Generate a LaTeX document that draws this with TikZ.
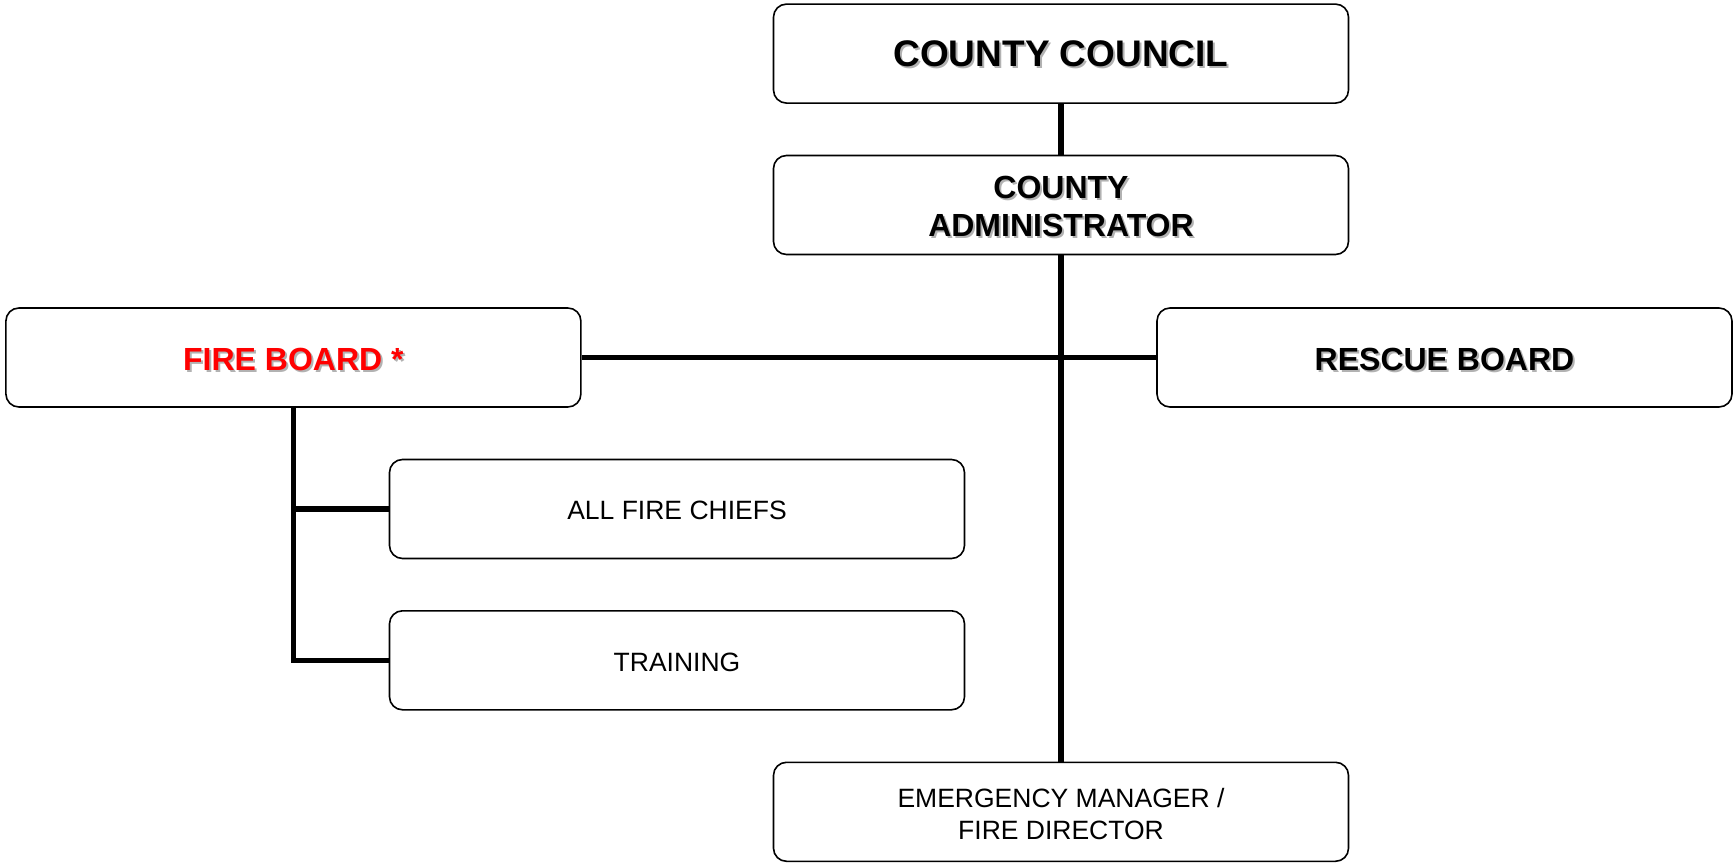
\documentclass[tikz,border=0pt]{standalone}
\usepackage{fontspec}
\setmainfont{Liberation Sans}
\newcommand\shd[2][black]{\makebox[0pt][l]{\hspace{2pt}\raisebox{-2pt}{\color{black!30}#2}}{\color{#1}#2}}
\newcommand\dn[2][2.5pt]{\raisebox{-#1}[\height][\depth]{#2}}
\begin{document}
\begin{tikzpicture}[x=1pt,y=-1pt,
  box/.style={draw=black,line width=1.6pt,rounded corners=13pt,fill=white,
    minimum width=575pt,minimum height=99pt,inner sep=0pt,align=center},
  big/.style={font=\fontsize{37}{40}\selectfont\bfseries},
  bold/.style={font=\fontsize{32}{37.5}\selectfont\bfseries},
  reg/.style={font=\fontsize{26.5}{32}\selectfont},
  conn/.style={line width=5.5pt,draw=black}]
\useasboundingbox (0,0) rectangle (1733,867);
\node[box,big] (cc) at (1061,53.6) {\dn[1pt]{\shd{COUNTY COUNCIL}}};
\node[box,bold] (ca) at (1061,205) {\dn{\shd{COUNTY}}\\\dn{\shd{ADMINISTRATOR}}};
\node[box,bold] (fb) at (293.4,357.5) {\dn[3pt]{\shd[red]{FIRE BOARD *}}};
\node[box,bold] (rb) at (1444.5,357.5) {\dn[3pt]{\shd{RESCUE BOARD}}};
\node[box,reg] (afc) at (677,509) {\dn[1.5pt]{ALL FIRE CHIEFS}};
\node[box,reg] (tr) at (677,660.3) {\dn{TRAINING}};
\node[box,reg] (em) at (1061,811.8) {\dn{EMERGENCY MANAGER /}\\\dn{FIRE DIRECTOR}};
\coordinate (j) at (fb.south |- afc.west);
\draw[conn] (cc.south) -- (ca.north);
\draw[conn] (ca.south) -- (em.north);
\draw[conn] (fb.east) -- (rb.west);
\draw[conn] (fb.south) |- (tr.west);
\draw[conn] (j) -- (afc.west);
\end{tikzpicture}
\end{document}
